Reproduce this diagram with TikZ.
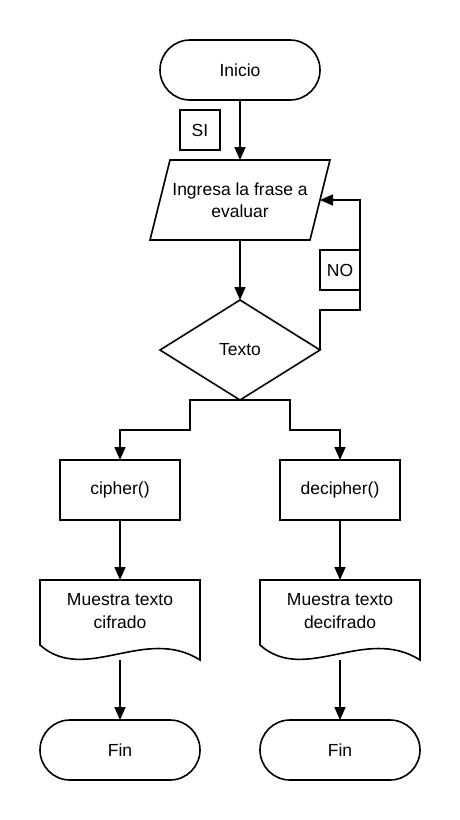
\documentclass[tikz,border=0pt]{standalone}
\usepackage{fontspec}
\setmainfont{Liberation Sans}
\usetikzlibrary{arrows.meta,shapes.geometric}
\begin{document}
\begin{tikzpicture}[x=1pt,y=-1pt,
  line width=1.6pt,
  every node/.style={font=\fontsize{17.5}{22.5}\selectfont, align=center, inner sep=0pt, outer sep=0pt},
  term/.style={draw, rectangle, rounded corners=30pt, minimum width=160pt, minimum height=60pt},
  procbox/.style={draw, rectangle, minimum width=120pt, minimum height=60pt},
  lbl/.style={draw, rectangle, minimum width=40pt, minimum height=40pt, line width=1.2pt},
  txt/.style={minimum width=160pt, minimum height=80pt},
  decis/.style={draw, diamond, minimum width=160pt, minimum height=100pt},
  arr/.style={-{Triangle[length=13pt,width=11pt]}}]
\fill[white] (0,0) rectangle (460,820);
\useasboundingbox (0,0) rectangle (460,820);

% Start
\node[term] (start) at (240,70) {Inicio};
\node[lbl] (si) at (200,130) {SI};

% Input parallelogram
\draw (170,160) -- (330,160) -- (310,240) -- (150,240) -- cycle;
\node[txt] (inp) at (240,200) {Ingresa la frase a\\evaluar};
\coordinate (inpR) at (320,200);

% Decision
\node[decis] (dec) at (240,350) {Texto};
\coordinate (decE) at (320,350);
\coordinate (decS) at (240,400);
\node[lbl] (no) at (340,270) {NO};

% Processes
\node[procbox] (c1) at (120,490) {cipher()};
\node[procbox] (c2) at (340,490) {decipher()};

% Documents
\draw (40,580) -- (200,580) -- (200,660) .. controls (145,625) and (85,685) .. (40,645) -- cycle;
\draw (260,580) -- (420,580) -- (420,660) .. controls (365,625) and (305,685) .. (260,645) -- cycle;
\node[minimum width=160pt, minimum height=60pt] (d1) at (120,611) {Muestra texto\\cifrado};
\node[minimum width=160pt, minimum height=60pt] (d2) at (340,611) {Muestra texto\\decifrado};
\coordinate (d1t) at (120,580);
\coordinate (d2t) at (340,580);
\coordinate (d1b) at (120,660);
\coordinate (d2b) at (340,660);

% End
\node[term] (f1) at (120,750) {Fin};
\node[term] (f2) at (340,750) {Fin};

% Connectors
\draw[arr] (start.south) -- (inp.north);
\draw[arr] (inp.south) -- (decS |- dec.north);
\draw[arr] (decE) -- (320,310) -- (360,310) -- (no.south east) (no.north east) |- (inpR);
\draw[arr] (decS) -| (190,430) -| (c1.north);
\draw[arr] (decS) -| (290,430) -| (c2.north);
\draw[arr] (c1.south) -- (d1t);
\draw[arr] (c2.south) -- (d2t);
\draw[arr] (d1b) -- (f1.north);
\draw[arr] (d2b) -- (f2.north);
\end{tikzpicture}
\end{document}
